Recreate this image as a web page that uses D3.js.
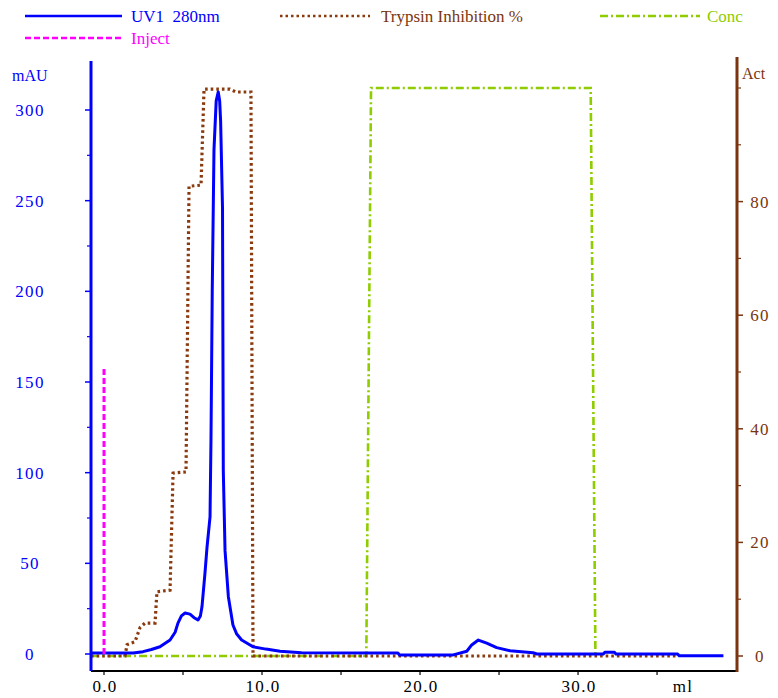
<!DOCTYPE html>
<html><head><meta charset="utf-8">
<script src="https://cdn.jsdelivr.net/npm/d3@7"></script>
<style>
body{margin:0;background:#fff;}
svg{display:block;}
text{font-family:"Liberation Serif","DejaVu Serif",serif;}
</style></head>
<body>
<svg id="c" width="778" height="698"></svg>
<script>
// ---- data ----
const uvMl = [-0.82,1.84,2.47,3.0,3.54,4.18,4.5,4.68,4.9,5.13,5.44,5.7,5.95,6.1,6.2,6.39,6.52,6.71,6.77,6.85,6.96,7.1,7.23,7.32,7.38,7.5,7.55,7.66,7.87,8.16,8.4,8.71,9.43,10.25,11.14,12.5,17.5,18.6,18.7,22.1,22.96,23.27,23.69,24.22,24.85,25.7,27.15,27.4,31.6,31.7,32.3,32.4,36.3,36.4,39.2];
const uvMAU = [0.5,0.5,1.3,2.5,4,7.7,12,17,21,22.6,22,20,18.8,21,26,44.6,59,75.6,118,200,278,305,310,305,294,246,101,57,31.6,16,11,7.7,4,2.7,1.5,0.7,0.5,0.5,-0.5,-0.5,1.5,5,7.7,6,3.5,1.8,0.7,0,0,1,1,0,0,-1,-1];

const trypMl = [-0.82,1.33,1.46,1.96,2.28,2.6,3.23,3.35,4.18,4.37,5.19,5.38,6.14,6.33,7.97,8.35,9.3,9.43,36.3];
const trypAct = [0,0,2,2.5,5,5.8,5.8,11.3,11.6,32.2,32.4,82.7,82.9,99.8,99.8,99.3,99.3,0,0];

const concMl = [-0.82,16.6,16.9,30.8,31.1];
const concPct = [0,0,100,100,0];

const injectMl = [0,0];
const injectMAU = [0,158];

const leftTicks = [0,50,100,150,200,250,300];
const leftMinor = [25,75,125,175,225,275];
const rightTicks = [0,20,40,60,80];
const rightMinor = [10,30,50,70,90,100];
const xTicks = [0,10,20,30];
const xTickLabels = ["0.0","10.0","20.0","30.0"];
const xMinor = [5,15,25,35];

const legendItems = [
  {label:"UV1  280nm", color:"#0000ff", text:"#0000ff", dash:null, w:2.5},
  {label:"Trypsin Inhibition %", color:"#8b3a0e", text:"#7a3510", dash:"2.5,3", w:2.5},
  {label:"Conc", color:"#8fcc00", text:"#8fcc00", dash:"8,3,2,3", w:2.5},
  {label:"Inject", color:"#ff00ff", text:"#ff00ff", dash:"6,3", w:2.5}
];

// ---- scales ----
const x = d3.scaleLinear().domain([-0.823, 40.06]).range([91, 737]);
const yL = d3.scaleLinear().domain([0, 300]).range([654, 110]);
const yR = d3.scaleLinear().domain([0, 100]).range([656, 88]);

const svg = d3.select("#c");
const blue = "#0000ff", brown = "#7a3510", green = "#8fcc00", magenta = "#ff00ff";

// ---- series ----
const line = (xs, ys, ys2) => d3.line().x((d,i)=>x(xs[i])).y((d,i)=>ys2(ys[i]))(xs);

svg.append("path").attr("d", line(concMl, concPct, yR))
  .attr("fill","none").attr("stroke",green).attr("stroke-width",2.6)
  .attr("stroke-dasharray","8,3,2,3");

svg.append("path").attr("d", line(trypMl, trypAct, yR))
  .attr("fill","none").attr("stroke","#8b3a0e").attr("stroke-width",3.2)
  .attr("stroke-dasharray","2.6,3");

svg.append("path").attr("d", line(uvMl, uvMAU, yL))
  .attr("fill","none").attr("stroke",blue).attr("stroke-width",3)
  .attr("stroke-linejoin","round");

svg.append("path").attr("d", line(injectMl, injectMAU, yL))
  .attr("fill","none").attr("stroke",magenta).attr("stroke-width",3)
  .attr("stroke-dasharray","6,3");

// ---- axes ----
// bottom
const gB = svg.append("g").attr("transform","translate(0,671)");
gB.append("line").attr("x1",91).attr("x2",738).attr("stroke","#000").attr("stroke-width",2);
gB.selectAll(".tb").data(xTicks.concat(xMinor)).join("line")
  .attr("x1",d=>x(d)).attr("x2",d=>x(d)).attr("y1",0).attr("y2",4)
  .attr("stroke","#000").attr("stroke-width",1.2);
gB.selectAll(".lb").data(xTicks).join("text")
  .attr("x",d=>x(d)+1).attr("y",21).attr("text-anchor","middle")
  .attr("font-size",17).attr("letter-spacing",1.3).attr("fill","#000")
  .text((d,i)=>xTickLabels[i]);
gB.append("text").attr("x",683).attr("y",21).attr("text-anchor","middle")
  .attr("font-size",17).attr("letter-spacing",1.3).attr("fill","#000").text("ml");

// left
const gL = svg.append("g");
gL.append("line").attr("x1",91).attr("x2",91).attr("y1",61).attr("y2",671)
  .attr("stroke",blue).attr("stroke-width",3);
gL.selectAll(".tl").data(leftTicks).join("line")
  .attr("x1",85).attr("x2",91).attr("y1",d=>yL(d)).attr("y2",d=>yL(d))
  .attr("stroke",blue).attr("stroke-width",1.5);
gL.selectAll(".tlm").data(leftMinor).join("line")
  .attr("x1",87).attr("x2",91).attr("y1",d=>yL(d)).attr("y2",d=>yL(d))
  .attr("stroke",blue).attr("stroke-width",1.2);
gL.selectAll(".ll").data(leftTicks).join("text")
  .attr("x",30).attr("y",d=>yL(d)).attr("dy","0.35em").attr("text-anchor","middle")
  .attr("font-size",17).attr("letter-spacing",1.3).attr("fill",blue).text(d=>d);
gL.append("text").attr("x",12).attr("y",75).attr("dy","0.35em")
  .attr("font-size",16).attr("fill",blue).text("mAU");

// right
const gR = svg.append("g");
gR.append("line").attr("x1",737).attr("x2",737).attr("y1",57).attr("y2",672)
  .attr("stroke",brown).attr("stroke-width",3);
gR.selectAll(".tr").data(rightTicks).join("line")
  .attr("x1",737).attr("x2",743).attr("y1",d=>yR(d)).attr("y2",d=>yR(d))
  .attr("stroke",brown).attr("stroke-width",1.5);
gR.selectAll(".trm").data(rightMinor).join("line")
  .attr("x1",737).attr("x2",741).attr("y1",d=>yR(d)).attr("y2",d=>yR(d))
  .attr("stroke",brown).attr("stroke-width",1.2);
gR.selectAll(".lr").data(rightTicks).join("text")
  .attr("x",760).attr("y",d=>yR(d)).attr("dy","0.35em").attr("text-anchor","middle")
  .attr("font-size",17).attr("letter-spacing",1.3).attr("fill",brown).text(d=>d);
gR.append("text").attr("x",742).attr("y",73).attr("dy","0.35em")
  .attr("font-size",16).attr("fill",brown).text("Act");

// ---- legend ----
const legPos = [
  {x1:25,x2:122,tx:131,y:16},
  {x1:280,x2:370,tx:381,y:16},
  {x1:600,x2:700,tx:707,y:16},
  {x1:25,x2:122,tx:131,y:38}
];
legendItems.forEach((it,i)=>{
  const p = legPos[i];
  const l = svg.append("line").attr("x1",p.x1).attr("x2",p.x2).attr("y1",p.y).attr("y2",p.y)
    .attr("stroke",it.color).attr("stroke-width",it.w);
  if(it.dash) l.attr("stroke-dasharray",it.dash);
  svg.append("text").attr("x",p.tx).attr("y",p.y).attr("dy","0.35em")
    .attr("font-size",17).attr("fill",it.text).style("white-space","pre").text(it.label);
});
</script>
</body></html>
